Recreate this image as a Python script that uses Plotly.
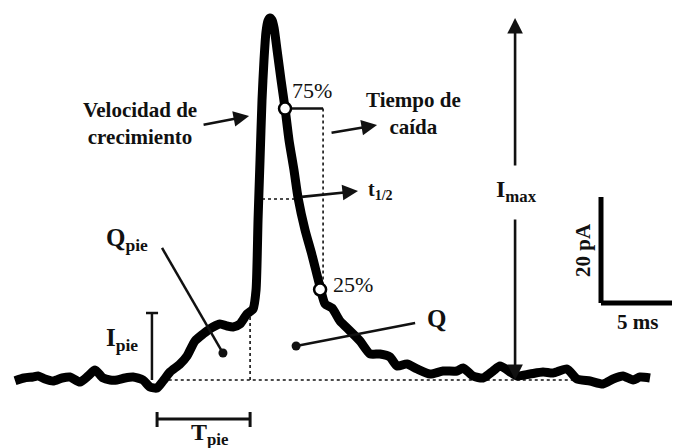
import plotly.graph_objects as go

# Amperometric spike: time (ms) and current (pA)
time_ms = [1.06, 1.69, 2.32, 2.68, 3.17, 3.73, 4.37, 4.93, 5.63, 6.20, 6.69, 7.25, 7.75, 8.24,
           8.80, 9.37, 10.07, 10.56, 11.06, 11.48, 11.97, 12.68, 13.17, 13.73, 14.30, 15.00,
           15.49, 15.99, 16.41, 16.90, 17.39, 17.82, 18.03, 18.17, 18.31, 18.45, 18.59, 18.73,
           18.87, 19.01, 19.15, 19.30, 19.51, 19.79, 20.07, 20.35, 20.70, 20.99, 21.48, 21.97,
           22.54, 22.89, 23.38, 23.94, 24.65, 25.35, 26.06, 26.76, 27.46, 27.96, 28.66, 29.37,
           30.28, 31.20, 32.18, 32.61, 33.31, 34.01, 34.72, 35.21, 35.92, 36.41, 37.32, 38.24,
           38.94, 39.93, 40.63, 41.55, 42.46, 43.17, 43.87, 44.58, 45.07, 45.77]
current_pA = [-0.13, 0.38, 0.57, 0.75, 0.19, -0.19, 0.38, 0.57, -0.38, 0.75, 1.89, 0.38, 0.0, 0.0,
              0.38, 0.57, 0.0, -1.32, -1.51, -0.19, 1.51, 3.02, 4.53, 7.36, 8.68, 10.0,
              10.57, 10.19, 10.0, 10.57, 12.45, 13.40, 16.98, 30.19, 41.51, 52.83, 60.38, 65.66,
              67.74, 68.30, 67.92, 66.42, 62.26, 56.60, 51.32, 45.28, 39.62, 34.34, 28.30, 23.58,
              17.55, 14.34, 13.58, 11.13, 9.25, 7.36, 4.91, 4.91, 4.34, 2.64, 3.02, 2.08,
              1.13, 1.70, 1.70, 2.26, 0.75, 0.38, 1.70, 2.64, 1.51, 0.75, 1.13, 1.51,
              1.32, 2.08, 0.19, -0.19, -0.75, 0.19, 0.75, 0.0, 0.57, 0.38]

# Kinetic parameters of the spike
i_max = 68.30
t_peak = 19.01
t_75 = 20.07
t_25 = 22.54
t_half_left = 18.45
t_half_right = 20.92
t_decay_end = 22.75
foot_start = 11.06
foot_end = 17.61
foot_height = 12.64
q_dot = (20.85, 6.42)
qpie_dot = (15.70, 5.09)

# Scale bar
bar_x0 = 42.32
bar_y0 = 14.53
bar_ms = 5
bar_pA = 20

X_RANGE = [0, 47.39]
Y_RANGE = [-12.83, 71.70]

SERIF = "Liberation Serif, Times New Roman, serif"
INK = "#111111"

fig = go.Figure()

def seg(x, y, dash="solid", width=1.6, color=INK):
    fig.add_trace(go.Scatter(x=x, y=y, mode="lines", hoverinfo="skip", showlegend=False,
                             line=dict(color=color, width=width, dash=dash)))

# dotted reference lines
seg([foot_start + 0.4, 40.85], [0, 0], dash="dot")
seg([foot_end, foot_end], [0, 12.0], dash="dot")
seg([t_half_left, t_half_right], [i_max / 2, i_max / 2], dash="dot")
seg([t_decay_end, t_decay_end], [0.75 * i_max, 0.25 * i_max], dash="dot")
# 75 % horizontal marker
seg([t_75, t_decay_end], [0.75 * i_max, 0.75 * i_max], width=2.5)

# the spike trace
fig.add_trace(go.Scatter(x=time_ms, y=current_pA, mode="lines", hoverinfo="skip",
                         showlegend=False,
                         line=dict(color="#000000", width=9, shape="spline", smoothing=0.6)))

# I_pie bar
seg([10.70, 10.70], [0, foot_height], width=2.5)
seg([10.28, 11.13], [foot_height, foot_height], width=2.5)
# T_pie bar
seg([foot_start, foot_end], [-7.36, -7.36], width=3)
seg([foot_start, foot_start], [-6.04, -8.87], width=3)
seg([foot_end, foot_end], [-6.04, -8.87], width=3)

# charge pointer lines
seg([11.41, qpie_dot[0]], [24.91, qpie_dot[1]], width=2.5)
seg([q_dot[0], 29.23], [q_dot[1], 10.75], width=2.5)
fig.add_trace(go.Scatter(x=[qpie_dot[0], q_dot[0]], y=[qpie_dot[1], q_dot[1]], mode="markers",
                         hoverinfo="skip", showlegend=False,
                         marker=dict(color=INK, size=9)))

# 75 % and 25 % markers
fig.add_trace(go.Scatter(x=[t_75, t_25], y=[0.75 * i_max, 0.25 * i_max], mode="markers",
                         hoverinfo="skip", showlegend=False,
                         marker=dict(color="white", size=12,
                                     line=dict(color="#000000", width=2.5))))

# scale bar
seg([bar_x0, bar_x0], [bar_y0 + bar_pA, bar_y0], width=5, color="#000000")
seg([bar_x0, bar_x0 + bar_ms], [bar_y0, bar_y0], width=5, color="#000000")

annotations = []

def arrow(x, y, ax, ay):
    annotations.append(dict(x=x, y=y, ax=ax, ay=ay, xref="x", yref="y", axref="x", ayref="y",
                            showarrow=True, arrowhead=2, arrowsize=1.2, arrowwidth=2.6,
                            arrowcolor=INK, text=""))

arrow(17.54, 49.81, 14.23, 48.11)
arrow(26.55, 48.11, 23.24, 46.60)
arrow(25.21, 35.66, 21.13, 34.53)
arrow(36.27, i_max, 36.27, 40.19)
arrow(36.27, 0, 36.27, 30.57)

def label(x, y, text, size=18, bold=True, **kw):
    t = f"<b>{text}</b>" if bold else text
    annotations.append(dict(x=x, y=y, xref="x", yref="y", text=t, showarrow=False,
                            font=dict(family=SERIF, size=size, color=INK), **kw))

label(9.86, 48.49, "Velocidad de<br>crecimiento", size=21)
label(29.15, 50.3, "Tiempo de<br>caída", size=21)
label(26.80, 35.7, "t<sub>1/2</sub>", size=20)
label(36.40, 35.6, "I<sub>max</sub>", size=24)
label(21.95, 54.6, "75%", size=22, bold=False)
label(24.85, 18.1, "25%", size=22, bold=False)
label(8.95, 26.6, "Q<sub>pie</sub>", size=25)
label(30.77, 11.6, "Q", size=25)
label(8.60, 7.7, "I<sub>pie</sub>", size=25)
label(14.80, -10.2, "T<sub>pie</sub>", size=24)
label(44.86, 11.0, "5 ms", size=21)
label(41.05, 24.53, "20 pA", size=21, textangle=-90)

fig.update_layout(
    width=673, height=448,
    margin=dict(l=0, r=0, t=0, b=0),
    paper_bgcolor="white", plot_bgcolor="white",
    xaxis=dict(range=X_RANGE, visible=False, fixedrange=True),
    yaxis=dict(range=Y_RANGE, visible=False, fixedrange=True),
    annotations=annotations,
    showlegend=False,
)

fig.write_html("out.html")
